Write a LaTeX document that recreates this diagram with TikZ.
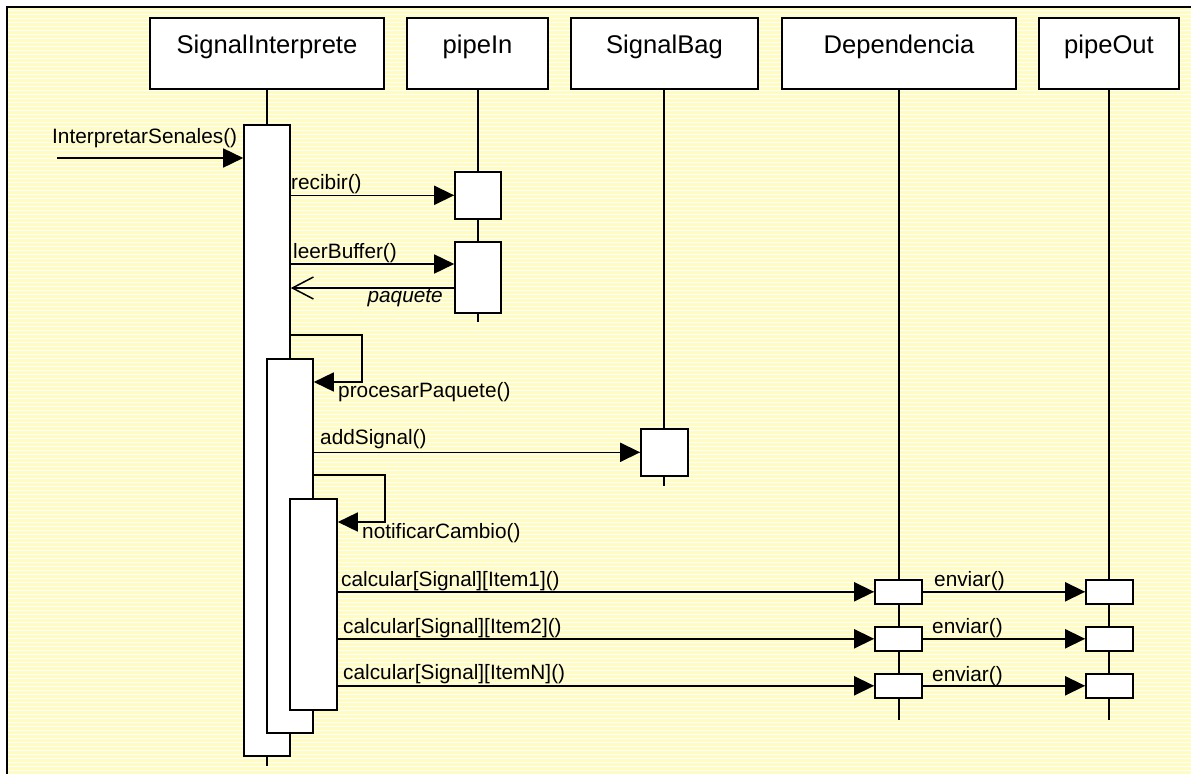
\documentclass[tikz,border=0pt]{standalone}
\usepackage{fontspec}
\setmainfont{Liberation Sans}
\usetikzlibrary{arrows.meta}
\begin{document}
\begin{tikzpicture}[x=1pt,y=-1pt,
  hdr/.style={draw,line width=1.6pt,fill=white,minimum width=#1,text height=36pt,text depth=35pt,inner ysep=0pt,inner xsep=0pt,anchor=north,font=\fontsize{25.6}{30}\selectfont},
  act/.style={draw,line width=1.6pt,fill=white,minimum width=46pt,minimum height=#1,inner sep=0pt,anchor=north},
  life/.style={line width=1.6pt},
  msg/.style={line width=1.6pt,-{Triangle[length=20pt,width=19pt]}},
  ret/.style={line width=1.6pt,-{Straight Barb[length=21pt,width=22pt,line width=1.5pt]}},
  lbl/.style={inner sep=0pt,anchor=base west,font=\fontsize{20.8}{25}\selectfont},
]
\useasboundingbox (0,0) rectangle (1191,774);
% background
\fill[yellow!24!white] (7,7) rectangle (1191,774);
\foreach \yy in {10,14,...,774} \draw[white,line width=0.7pt] (8,\yy) -- (1191,\yy);
\draw[line width=2pt] (1191,7) -- (7,7) -- (7,774);

% headers
\node[hdr=234pt] (si) at (267,17) {SignalInterprete};
\node[hdr=141pt] (pi) at (477.5,17) {pipeIn};
\node[hdr=187pt] (sb) at (664.5,17) {SignalBag};
\node[hdr=234pt] (de) at (899,17) {Dependencia};
\node[hdr=140pt] (po) at (1109,17) {pipeOut};

% lifeline ends
\coordinate (siE) at (267,766);
\coordinate (piE) at (478,322);
\coordinate (sbE) at (664,486);
\coordinate (deE) at (899,720);
\coordinate (poE) at (1109,720);
\draw[life] (si.south) -- (siE);
\draw[life] (pi.south -| piE) -- (piE);
\draw[life] (sb.south -| sbE) -- (sbE);
\draw[life] (de.south) -- (deE);
\draw[life] (po.south) -- (poE);

% activation bars
\node[act=631pt] (a1) at (267,124) {};
\node[act=374pt] (a2) at (290,358) {};
\node[act=211pt,minimum width=47pt] (a3) at (313.5,498) {};
\node[act=47pt] (p1) at (478,171) {};
\node[act=71pt] (p2) at (478,241) {};
\node[act=47pt,minimum width=47pt] (b1) at (664.5,428) {};
\node[act=24pt,minimum width=47pt] (d1) at (898.5,579) {};
\node[act=24pt,minimum width=47pt] (d2) at (898.5,626) {};
\node[act=24pt,minimum width=47pt] (d3) at (898.5,673) {};
\node[act=24pt,minimum width=47pt] (o1) at (1109.5,579) {};
\node[act=24pt,minimum width=47pt] (o2) at (1109.5,626) {};
\node[act=24pt,minimum width=47pt] (o3) at (1109.5,673) {};

% messages
\coordinate (start) at (57,158);
\draw[msg] (start) -- (a1.west |- start);
\draw[msg] (a1.east |- p1.west) -- (p1.west);
\draw[msg] (a1.east |- 0,264) -- (p2.west |- 0,264);
\draw[ret] (p2.west |- 0,288) -- (a1.east |- 0,288);
\draw[msg] (a1.east |- 0,335) -- ++(71,0) |- (a2.east |- 0,382);
\draw[msg] (a2.east |- b1.west) -- (b1.west);
\draw[msg] (a2.east |- 0,475) -- ++(71,0) |- (a3.east |- 0,522);
\draw[msg] (a3.east |- d1.west) -- (d1.west);
\draw[msg] (a3.east |- d2.west) -- (d2.west);
\draw[msg] (a3.east |- d3.west) -- (d3.west);
\draw[msg] (d1.east) -- (o1.west);
\draw[msg] (d2.east) -- (o2.west);
\draw[msg] (d3.east) -- (o3.west);

% labels
\node[lbl] (l0) at (52,143) {InterpretarSenales()};
\node[lbl] (l1) at (291,189) {recibir()};
\node[lbl] (l2) at (293,258) {leerBuffer()};
\node[lbl,anchor=base east,font=\fontsize{20.8}{25}\selectfont\itshape] (l3) at (443,302) {paquete};
\node[lbl] (l4) at (338,397) {procesarPaquete()};
\node[lbl] (l5) at (320,444) {addSignal()};
\node[lbl] (l6) at (362,538) {notificarCambio()};
\node[lbl] (l7) at (341,586) {calcular[Signal][Item1]()};
\node[lbl] (l8) at (343,633) {calcular[Signal][Item2]()};
\node[lbl] (l9) at (343,679) {calcular[Signal][ItemN]()};
\node[lbl] (l10) at (934,586) {enviar()};
\node[lbl] (l11) at (932,633) {enviar()};
\node[lbl] (l12) at (932,681) {enviar()};
\end{tikzpicture}
\end{document}
